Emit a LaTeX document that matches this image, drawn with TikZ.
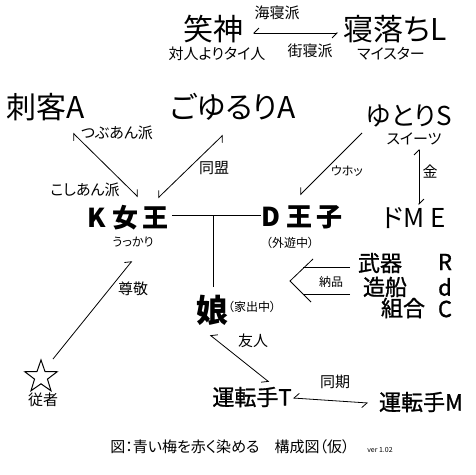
\documentclass[tikz,border=0pt]{standalone}
\usepackage{fontspec}
\setmainfont{Noto Sans CJK JP}[RawFeature=+palt]
\newfontfamily\medfont{Noto Sans CJK JP}[RawFeature=+palt,FakeBold=1.2]
\usetikzlibrary{arrows.meta,shapes.geometric}

\tikzset{
  hl/.tip={Straight Barb[harpoon,length=5pt,width=10pt]},
  hr/.tip={Straight Barb[harpoon,swap,length=5pt,width=10pt]},
  conn/.style={line width=0.8pt},
  every node/.style={inner sep=0pt},
  big/.style={font=\fontsize{30}{32}\selectfont},
  mid/.style={font=\fontsize{26}{28}\selectfont},
  heavy/.style={font=\fontsize{26}{28}\selectfont\bfseries},
  side/.style={font=\fontsize{22}{24}\medfont},
  lbl/.style={font=\fontsize{15}{16}\selectfont},
  sml/.style={font=\fontsize{12}{13}\selectfont},
}

\begin{document}
\begin{tikzpicture}[x=1pt,y=-1pt]
    \useasboundingbox (0,0) rectangle (476,474);
    % top pair
    \node[big] (warai) at (213,29) {笑神};
    \node[lbl] (taijin) at (217,54) {対人よりタイ人};
    \node[big] (neochi) at (395,29) {寝落ちL};
    \node[lbl] (meister) at (391,54) {マイスター};
    \node[lbl] (umi) at (277,13) {海寝派};
    \node[lbl] (machi) at (310,51) {街寝派};
    % upper row
    \node[big] (shikaku) at (46,107) {刺客A};
    \node[big] (goyururi) at (233,107) {ごゆるりA};
    \node[lbl] (tsubu) at (117,133) {つぶあん派};
    \node[lbl] (koshi) at (85,190) {こしあん派};
    \node[lbl] (doumei) at (214,168) {同盟};
    \node[mid] (yutori) at (409,116) {ゆとりS};
    \node[lbl] (sweets) at (414,139) {スイーツ};
    \node[sml] (uho) at (347,171) {ウホッ};
    \node[lbl] (kin) at (430,172) {金};
    \node[mid] (dme) at (414,218) {ドM E};
    % middle row
    \node[heavy] (kq) at (128,218) {K\hspace{6pt}女\hspace{4pt}王};
    \node[sml] (ukkari) at (133,242) {うっかり};
    \node[heavy] (dp) at (302,217) {D\hspace{6pt}王\hspace{4pt}子};
    \node[sml] (gaiyu) at (290,243) {（外遊中）};
    \node[side] (buki) at (380,263) {武器};
    \node[side] (zousen) at (385,287) {造船};
    \node[side] (kumiai) at (403,308) {組合};
    \node[side] (rr) at (445,262) {R};
    \node[side] (dd) at (445,287) {d};
    \node[side] (cc) at (445,309) {C};
    \node[sml] (nouhin) at (331,282) {納品};
    \node[font=\fontsize{32}{34}\selectfont\bfseries] (musume) at (212,310) {娘};
    \node[sml] (iede) at (252,307) {（家出中）};
    % bottom
    \node[star, star points=5, star point ratio=2.5, draw, line width=1pt, minimum size=34pt] (star) at (41,377) {};
    \node[lbl] (juusha) at (43,400) {従者};
    \node[lbl] (sonkei) at (133,289) {尊敬};
    \node[lbl] (yuujin) at (253,341) {友人};
    \node[side] (untenT) at (252,397) {運転手T};
    \node[side] (untenM) at (421,402) {運転手M};
    \node[lbl] (douki) at (335,382) {同期};
    \node[lbl] (caption) at (230,447) {図：青い梅を赤く染める　構成図（仮）};
    \node[font=\fontsize{7}{8}\selectfont] (ver) at (380,450) {ver 1.02};

    % connectors
    \draw[conn,hr-hr] ([shift={(40,4)}]warai.center) -- ([shift={(-57,4)}]neochi.center);
    \draw[conn,hl-hl] ([shift={(27,26)}]shikaku.center) -- ([shift={(10,-21)}]kq.center);
    \draw[conn,hr-hr] ([shift={(-10,28)}]goyururi.center) -- ([shift={(30,-20)}]kq.center);
    \draw[conn,-hr] ([shift={(-47,17)}]yutori.center) -- ([shift={(-2,-22)}]dp.center);
    \draw[conn,hl-hl] ([shift={(10,33)}]yutori.center) -- ([shift={(5,-13)}]dme.center);
    \coordinate (kqline) at ([shift={(4,-3)}]kq.east);
    \draw[conn] (kqline) -- (kqline -| dp.west);
    \draw[conn] ([shift={(1,-23)}]musume.center) -- ([xshift=1pt]musume.center |- kqline);
    \draw[conn,-hl] ([shift={(12,-18)}]star.center) -- ([shift={(-1,19)}]ukkari.center);
    \draw[conn,hr-hr] ([shift={(-2,25)}]musume.center) -- ([shift={(17,-15)}]untenT.center);
    \draw[conn,hr-hr] ([shift={(41,1)}]untenT.center) -- ([shift={(-53,1)}]untenM.center);
    % delivery arrow
    \coordinate (nh) at ([shift={(-90,18)}]buki.center);
    \draw[conn] ([shift={(-30,4)}]buki.center) -- ++(-47,0);
    \draw[conn] ([shift={(-35,7)}]zousen.center) -- ++(-47,0);
    \draw[conn] ([shift={(23,-22)}]nh) -- (nh) -- ([shift={(21,21)}]nh);
\end{tikzpicture}
\end{document}
